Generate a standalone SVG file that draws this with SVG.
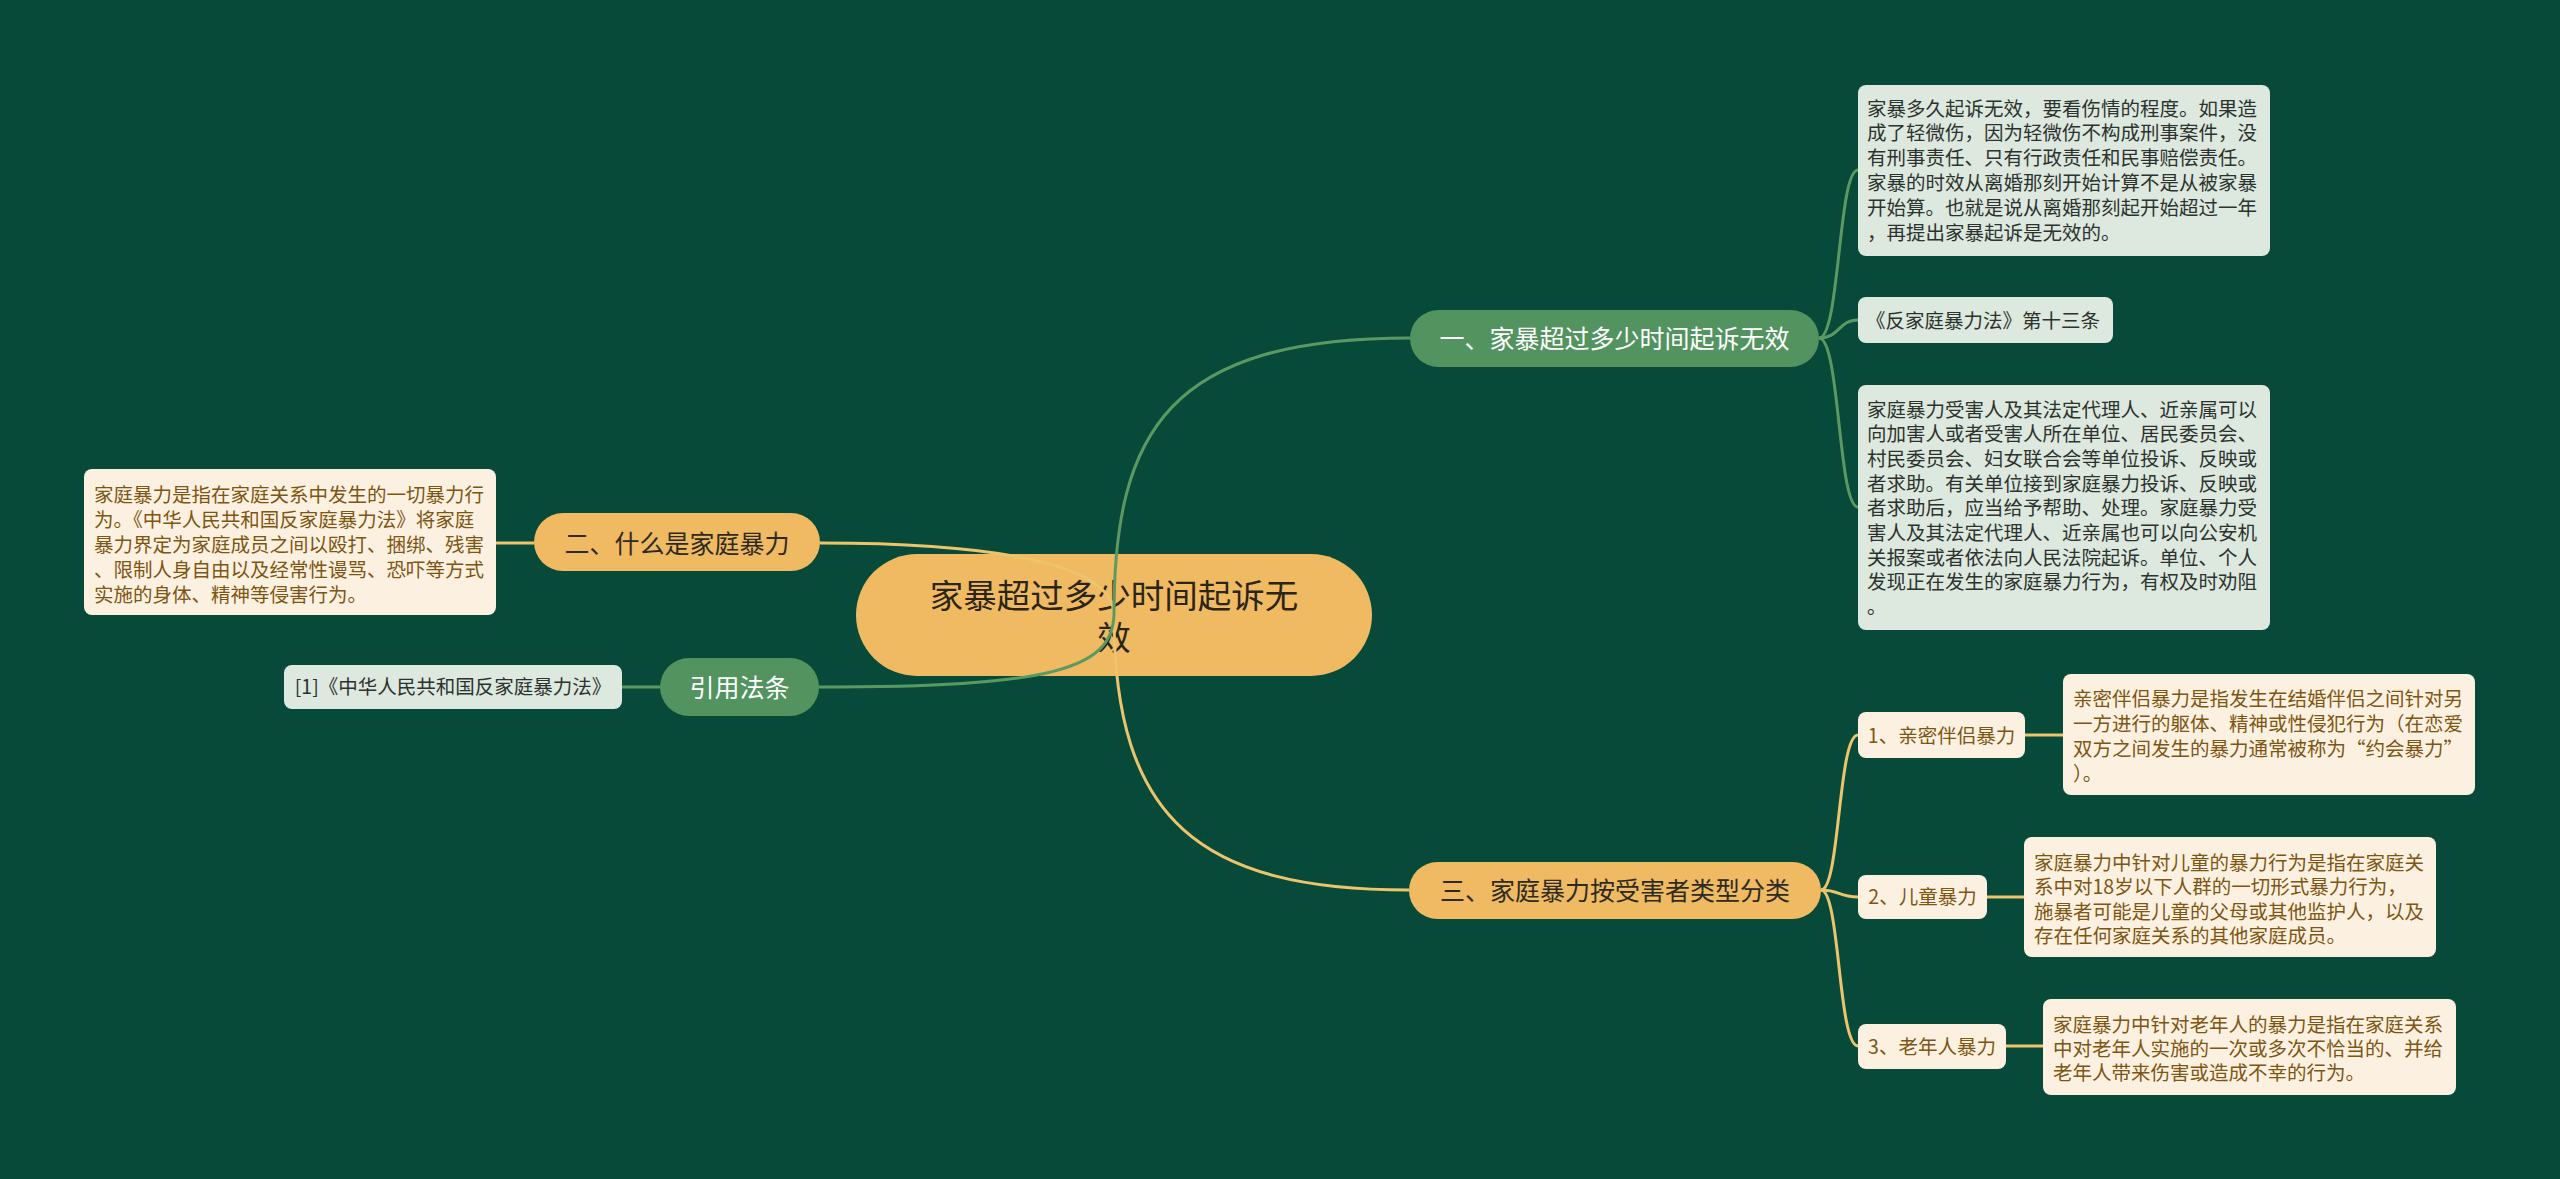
<svg xmlns="http://www.w3.org/2000/svg" width="2560" height="1179" viewBox="0 0 2560 1179">
<style>
text{font-family:"Noto Sans CJK SC","Noto Sans",sans-serif;}
.bg{fill:#084a3a;}
.org{fill:#efba62;}
.grn{fill:#52935f;}
.lg{fill:#dde8df;}
.cr{fill:#fcf1e0;}
.t-root{font-size:33.5px;fill:#2b2418;}
.t-br-d{font-size:25px;fill:#2e2a22;}
.t-br-w{font-size:25px;fill:#ffffff;}
.t-lf{font-size:19.5px;fill:#2c332e;}
.t-cr{font-size:19.5px;fill:#7d5614;}
.cy{fill:none;stroke:#ecc46c;stroke-width:3;}
.cg{fill:none;stroke:#5a9a62;stroke-width:3;}
</style>
<rect class="bg" x="0" y="0" width="2560" height="1179"/>

<g id="root">
<rect class="org" x="856" y="554" width="516" height="122" rx="61"/>
<text class="t-root" x="1114" y="608" text-anchor="middle">家暴超过多少时间起诉无</text>
<text class="t-root" x="1114" y="650" text-anchor="middle">效</text>
</g>

<g id="connectors">
<path class="cy" d="M1114,615 C1114,565 1000,543 820,543"/>
<path class="cy" d="M1114,615 C1114,820 1200,890 1409,890"/>
<path class="cg" d="M1114,615 C1114,430 1170,338 1410,338"/>
<path class="cg" d="M1114,615 C1112,670 1050,687 819,687"/>
<path class="cy" d="M534,543 L496,543"/>
<path class="cg" d="M660,687 L622,687"/>
<path class="cg" d="M1819,338 C1840,338 1838,170 1858,170"/>
<path class="cg" d="M1819,338 C1840,338 1838,320 1858,320"/>
<path class="cg" d="M1819,338 C1840,338 1838,507 1858,507"/>
<path class="cy" d="M1821,890 C1840,890 1838,735 1858,735"/>
<path class="cy" d="M1821,890 C1840,890 1838,897 1858,897"/>
<path class="cy" d="M1821,890 C1840,890 1838,1046 1858,1046"/>
<path class="cy" d="M2025,735 L2063,735"/>
<path class="cy" d="M1987,897 L2024,897"/>
<path class="cy" d="M2006,1046 L2043,1046"/>
</g>

<g id="branch1">
<rect class="grn" x="1410" y="310" width="409" height="57" rx="28.5"/>
<text class="t-br-w" x="1614.5" y="347.5" text-anchor="middle">一、家暴超过多少时间起诉无效</text>
</g>

<g id="leaf1a">
<rect class="lg" x="1858" y="85" width="412" height="171" rx="8"/>
<text class="t-lf" x="1867" y="115.5">家暴多久起诉无效，要看伤情的程度。如果造</text>
<text class="t-lf" x="1867" y="140.3">成了轻微伤，因为轻微伤不构成刑事案件，没</text>
<text class="t-lf" x="1867" y="165.1">有刑事责任、只有行政责任和民事赔偿责任。</text>
<text class="t-lf" x="1867" y="189.9">家暴的时效从离婚那刻开始计算不是从被家暴</text>
<text class="t-lf" x="1867" y="214.7">开始算。也就是说从离婚那刻起开始超过一年</text>
<text class="t-lf" x="1867" y="239.5">，再提出家暴起诉是无效的。</text>
</g>

<g id="leaf1b">
<rect class="lg" x="1858" y="297" width="255" height="46" rx="8"/>
<text class="t-lf" x="1866" y="327.5">《反家庭暴力法》第十三条</text>
</g>

<g id="leaf1c">
<rect class="lg" x="1858" y="385" width="412" height="245" rx="8"/>
<text class="t-lf" x="1867" y="416.5">家庭暴力受害人及其法定代理人、近亲属可以</text>
<text class="t-lf" x="1867" y="441.2">向加害人或者受害人所在单位、居民委员会、</text>
<text class="t-lf" x="1867" y="465.9">村民委员会、妇女联合会等单位投诉、反映或</text>
<text class="t-lf" x="1867" y="490.6">者求助。有关单位接到家庭暴力投诉、反映或</text>
<text class="t-lf" x="1867" y="515.3">者求助后，应当给予帮助、处理。家庭暴力受</text>
<text class="t-lf" x="1867" y="540.0">害人及其法定代理人、近亲属也可以向公安机</text>
<text class="t-lf" x="1867" y="564.7">关报案或者依法向人民法院起诉。单位、个人</text>
<text class="t-lf" x="1867" y="589.4">发现正在发生的家庭暴力行为，有权及时劝阻</text>
<text class="t-lf" x="1867" y="614.1">。</text>
</g>

<g id="branch2">
<rect class="org" x="534" y="513" width="286" height="58" rx="29"/>
<text class="t-br-d" x="677" y="552.5" text-anchor="middle">二、什么是家庭暴力</text>
</g>

<g id="leaf2">
<rect class="cr" x="84" y="469" width="412" height="146" rx="8"/>
<text class="t-cr" x="94" y="502">家庭暴力是指在家庭关系中发生的一切暴力行</text>
<text class="t-cr" x="94" y="527">为。《中华人民共和国反家庭暴力法》将家庭</text>
<text class="t-cr" x="94" y="552">暴力界定为家庭成员之间以殴打、捆绑、残害</text>
<text class="t-cr" x="94" y="577">、限制人身自由以及经常性谩骂、恐吓等方式</text>
<text class="t-cr" x="94" y="602">实施的身体、精神等侵害行为。</text>
</g>

<g id="branch-cite">
<rect class="grn" x="660" y="658" width="159" height="58" rx="29"/>
<text class="t-br-w" x="739.5" y="696.5" text-anchor="middle">引用法条</text>
</g>

<g id="leaf-cite">
<rect class="lg" x="284" y="665" width="338" height="44" rx="8"/>
<text class="t-lf" x="453" y="694" text-anchor="middle">[1]《中华人民共和国反家庭暴力法》</text>
</g>

<g id="branch3">
<rect class="org" x="1409" y="862" width="412" height="57" rx="28.5"/>
<text class="t-br-d" x="1615" y="900" text-anchor="middle">三、家庭暴力按受害者类型分类</text>
</g>

<g id="sub1">
<rect class="cr" x="1858" y="712" width="167" height="46" rx="8"/>
<text class="t-cr" x="1941.5" y="742.5" text-anchor="middle">1、亲密伴侣暴力</text>
</g>
<g id="desc1">
<rect class="cr" x="2063" y="674" width="412" height="121" rx="8"/>
<text class="t-cr" x="2073" y="705.5">亲密伴侣暴力是指发生在结婚伴侣之间针对另</text>
<text class="t-cr" x="2073" y="730.5">一方进行的躯体、精神或性侵犯行为（在恋爱</text>
<text class="t-cr" x="2073" y="755.5">双方之间发生的暴力通常被称为“约会暴力”</text>
<text class="t-cr" x="2073" y="780.5">）。</text>
</g>

<g id="sub2">
<rect class="cr" x="1858" y="875" width="129" height="44" rx="8"/>
<text class="t-cr" x="1922.5" y="904" text-anchor="middle">2、儿童暴力</text>
</g>
<g id="desc2">
<rect class="cr" x="2024" y="837" width="412" height="120" rx="8"/>
<text class="t-cr" x="2034" y="869.5">家庭暴力中针对儿童的暴力行为是指在家庭关</text>
<text class="t-cr" x="2034" y="894">系中对18岁以下人群的一切形式暴力行为，</text>
<text class="t-cr" x="2034" y="918.5">施暴者可能是儿童的父母或其他监护人，以及</text>
<text class="t-cr" x="2034" y="943">存在任何家庭关系的其他家庭成员。</text>
</g>

<g id="sub3">
<rect class="cr" x="1858" y="1024" width="148" height="45" rx="8"/>
<text class="t-cr" x="1932" y="1053.5" text-anchor="middle">3、老年人暴力</text>
</g>
<g id="desc3">
<rect class="cr" x="2043" y="999" width="413" height="96" rx="8"/>
<text class="t-cr" x="2053" y="1032">家庭暴力中针对老年人的暴力是指在家庭关系</text>
<text class="t-cr" x="2053" y="1056">中对老年人实施的一次或多次不恰当的、并给</text>
<text class="t-cr" x="2053" y="1080">老年人带来伤害或造成不幸的行为。</text>
</g>
</svg>
